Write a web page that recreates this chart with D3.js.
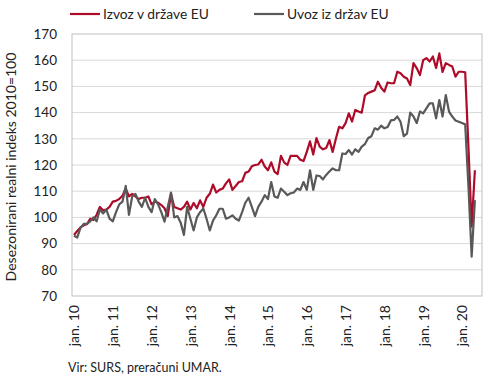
<!DOCTYPE html>
<html><head><meta charset="utf-8">
<script src="https://cdn.jsdelivr.net/npm/d3@7"></script>
<style>
body{margin:0;background:#fff;}
svg{display:block;font-family:Lato,"Open Sans",sans-serif;}
</style></head>
<body><svg id="c" width="490" height="378"></svg>
<script>
const seriesNames = ["Izvoz v države EU", "Uvoz iz držav EU"];
const tickLabels = ["jan. 10","jan. 11","jan. 12","jan. 13","jan. 14","jan. 15","jan. 16","jan. 17","jan. 18","jan. 19","jan. 20"];
const yTicks = [70,80,90,100,110,120,130,140,150,160,170];
const izvoz = [
93.3,94.8,96.2,97,97.4,99.5,99,101,104,102.7,103,104,
106,106.3,107,108.3,111,108,109,108,107,107.5,107.5,108,
105,106,105.6,104.7,103.5,100.5,109,104,103.5,103,104,106,
103,105.5,103.5,106.5,104,107.5,109,112.5,109.5,110.5,111,113,
114.5,110.5,112,113.5,113.8,117,117.5,119.5,120,120.2,122,119.4,
118,121,117.5,116.5,123.5,121,120,123.5,123.5,123.5,122,121.5,
125,129,124,130.3,127,126,126.5,129.5,125,130,134.6,134,
136,139.7,136.6,141,140.4,140,146.6,147.5,148,148.5,151.8,149.5,
148,151.5,151.2,151.2,155.6,155,153.7,153,150.5,158.9,157,154.3,
160,160.8,159.5,161.4,157,162.6,155.5,158.9,158.2,157.6,153.7,155.6,
155.6,155.4,127,96.5,118
];
const uvoz = [
93,92.3,96,97.5,97.5,98.5,100,98.5,103,101.5,103,99.5,
98.5,102,105,106,112,101,108,109,106,104,107.5,104,
102,107,105,102,98.4,104,109.5,100,100.5,98,93.3,104,
99.5,95,100,102,103.4,99.5,95,98.8,100.8,103.3,103.3,99.5,
100,100.8,99.5,98.8,102,105.6,107.5,104,100.5,104,106,108.5,
107,113.5,108,107.5,111,109.8,108.5,109.2,109.5,111,110.5,113.5,
110.5,118,110.5,116,115.8,114.5,116.2,117.5,118.7,118,118,124.4,
124.2,125.7,124,126,125,127,128,130.3,131,134,133.5,135,
134,134.5,137,137.2,138.5,136.5,131,132,140,138.5,136,140.4,
139.7,141.6,143.5,143.5,137.8,144.8,138.5,146.7,140.4,138.5,137,136.5,
136,135.5,112,85,106.6
];
const colors = ["#ae0a2a", "#595959"];

const svg = d3.select("#c");
const L = 72, R = 482, T = 34, B = 296;
const x = d3.scaleLinear().domain([-0.62, 126.2]).range([L, R]);
const y = d3.scaleLinear().domain([70, 170]).range([B, T]);

// gridlines
svg.append("g").selectAll("line").data(yTicks.slice(1, -1)).join("line")
  .attr("x1", L).attr("x2", R).attr("y1", d => y(d)).attr("y2", d => y(d))
  .attr("stroke", "#d9d9d9").attr("stroke-width", 1);
// frame
svg.append("rect").attr("x", L).attr("y", T).attr("width", R - L).attr("height", B - T)
  .attr("fill", "none").attr("stroke", "#bfbfbf").attr("stroke-width", 1);

// y axis
const yAxis = d3.axisLeft(y).tickValues(yTicks).tickSize(0).tickPadding(15);
const gy = svg.append("g").attr("transform", `translate(${L},0)`).call(yAxis);
gy.select(".domain").remove();
gy.selectAll("text").attr("font-size", 13.5).attr("fill", "#222").attr("font-family", "Lato, sans-serif");

// x axis
const xAxis = d3.axisBottom(x).tickValues(tickLabels.map((d, i) => i * 12))
  .tickFormat((d, i) => tickLabels[i]).tickSize(0);
const gx = svg.append("g").attr("transform", `translate(0,${B})`).call(xAxis);
gx.select(".domain").remove();
gx.selectAll("text")
  .attr("font-size", 14).attr("fill", "#222").attr("font-family", "Lato, sans-serif")
  .attr("text-anchor", "end").attr("transform", "rotate(-90)")
  .attr("x", -9).attr("y", 0).attr("dy", "0.35em");

// lines: export first, import drawn on top
const line = d3.line().x((d, i) => x(i)).y(d => y(d));
[izvoz, uvoz].forEach((s, k) => {
  svg.append("path").datum(s).attr("d", line).attr("fill", "none")
    .attr("stroke", colors[k]).attr("stroke-width", 2.2).attr("stroke-linejoin", "round");
});

// legend
const leg = [{x: 70, name: seriesNames[0], c: colors[0]}, {x: 254, name: seriesNames[1], c: colors[1]}];
leg.forEach(l => {
  svg.append("line").attr("x1", l.x).attr("x2", l.x + 30).attr("y1", 14).attr("y2", 14)
    .attr("stroke", l.c).attr("stroke-width", 2.2);
  svg.append("text").attr("x", l.x + 33).attr("y", 18.5).attr("font-size", 13.8)
    .attr("fill", "#222").text(l.name);
});

// y title
svg.append("text").attr("transform", `translate(16,${(T + B) / 2 + 2}) rotate(-90)`)
  .attr("text-anchor", "middle").attr("font-size", 14).attr("fill", "#222")
  .text("Desezonirani realni indeks 2010=100");

// source
svg.append("text").attr("x", 68).attr("y", 372).attr("font-size", 12.5).attr("fill", "#222")
  .text("Vir: SURS, preračuni UMAR.");
</script></body></html>
